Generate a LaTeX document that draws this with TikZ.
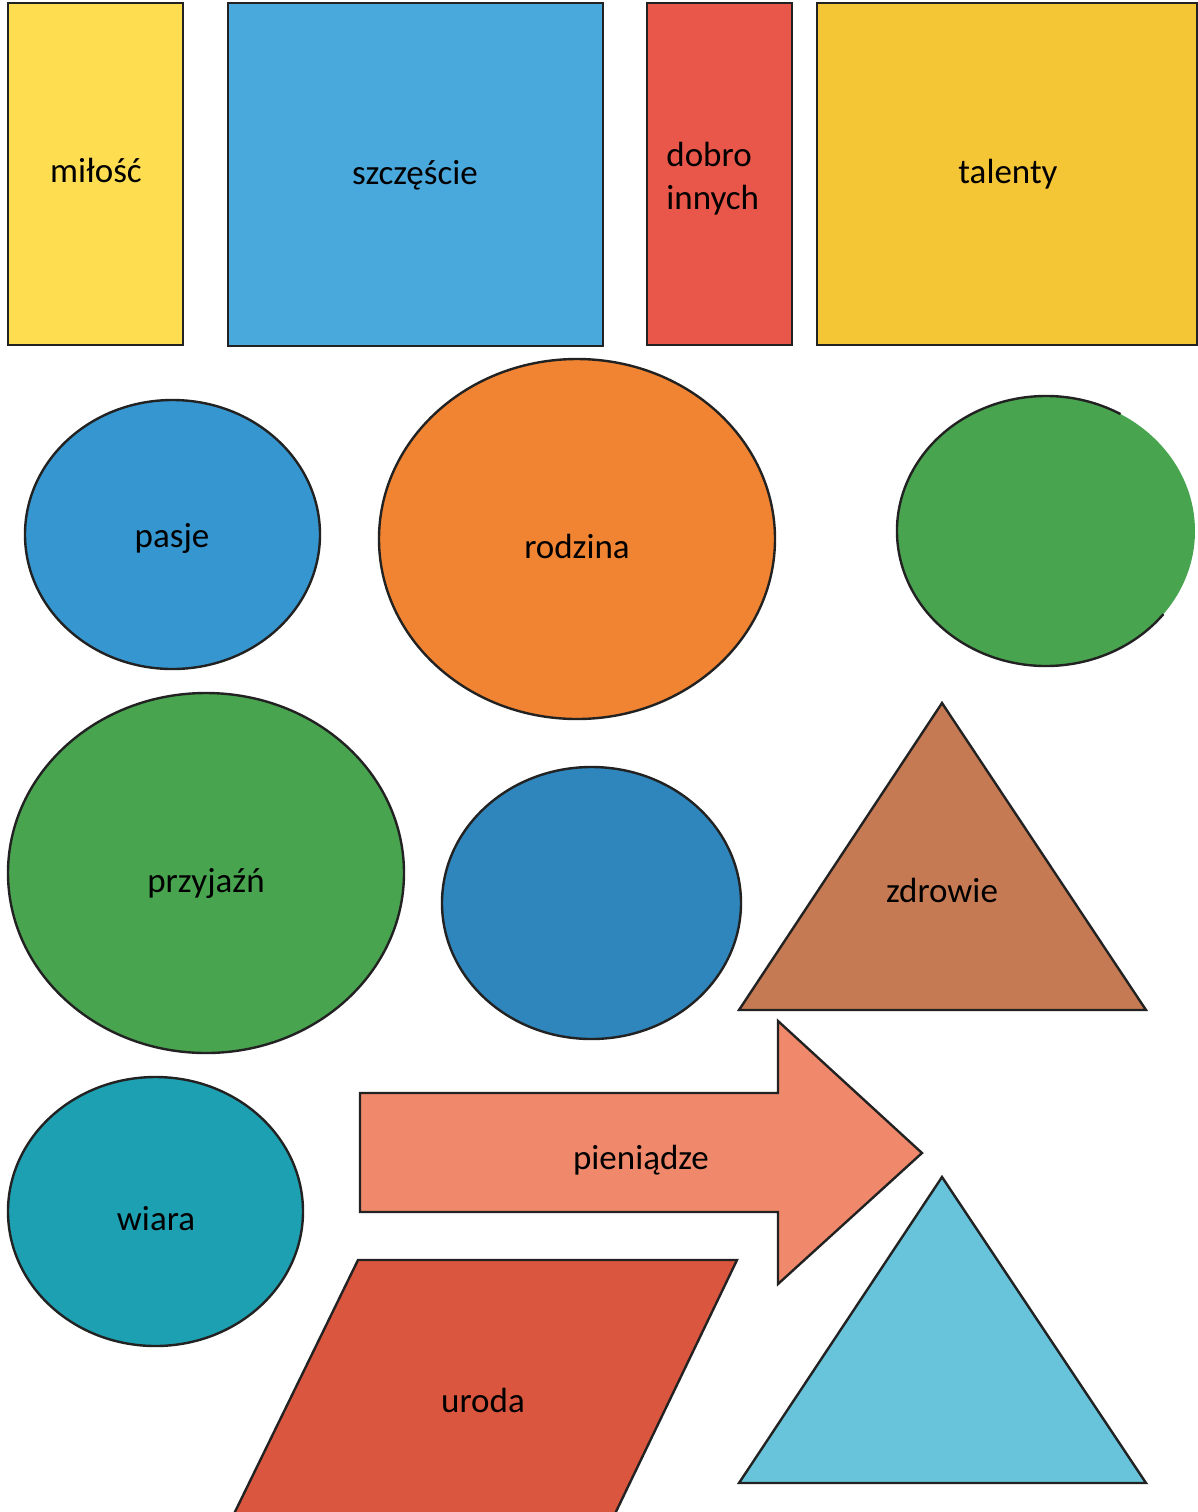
\documentclass[tikz,border=0pt]{standalone}
\usepackage{fontspec}
\setmainfont{Carlito}
\definecolor{zolty}{HTML}{FEDD50}
\definecolor{blekit}{HTML}{49A8DC}
\definecolor{czerwony}{HTML}{E8574A}
\definecolor{zloty}{HTML}{F4C535}
\definecolor{niebieski}{HTML}{3696D0}
\definecolor{pomaranczowy}{HTML}{F08432}
\definecolor{zielony}{HTML}{49A44F}
\definecolor{granat}{HTML}{2E86BC}
\definecolor{braz}{HTML}{C67A53}
\definecolor{morski}{HTML}{1EA0B3}
\definecolor{losos}{HTML}{F0896B}
\definecolor{ceglasty}{HTML}{DA563E}
\definecolor{jasny}{HTML}{67C4DA}
\definecolor{obrys}{HTML}{222222}
\begin{document}
\begin{tikzpicture}[x=0.5pt,y=-0.5pt]
	\tikzstyle{every node}=[font=\fontsize{17.5}{22}\selectfont,inner sep=0pt,anchor=base]
	\tikzstyle{blok}=[draw=obrys,line width=1.2pt,line join=miter]
	\useasboundingbox (0,0) rectangle (1198,1512);
	\path[blok,fill=zolty] (8,3) rectangle (183,345);
	\path[blok,fill=blekit] (228,3) rectangle (603,346);
	\path[blok,fill=czerwony] (647,3) rectangle (792,345);
	\path[blok,fill=zloty] (817,3) rectangle (1197,345);
	\node (milosc) at (96,182) {miłość};
	\node (szczescie) at (415,184) {szczęście};
	\node[anchor=base west] (dobro) at (666,166) {dobro};
	\node[anchor=base west] (innych) at (666,209) {innych};
	\node (talenty) at (1008,183) {talenty};
	\path[blok,fill=niebieski] (172.5,534.5) ellipse [x radius=147.5,y radius=134.5];
	\path[blok,fill=pomaranczowy] (577,539) ellipse [x radius=198,y radius=180];
	\fill[zielony] (1046,531) ellipse [x radius=149,y radius=135];
	\draw[blok] (1046,531) ++(-60:149 and 135) arc [start angle=-60,end angle=-322,x radius=149,y radius=135];
	\node (pasje) at (172,547) {pasje};
	\node (rodzina) at (577,558) {rodzina};
	\path[blok,fill=zielony] (206,873) ellipse [x radius=198,y radius=180];
	\path[blok,fill=granat] (591.5,903) ellipse [x radius=149.5,y radius=136];
	\path[blok,fill=braz] (942,703) -- (1146,1010) -- (739,1010) -- cycle;
	\node (przyjazn) at (206,892) {przyjaźń};
	\node (zdrowie) at (942,902) {zdrowie};
	\path[blok,fill=morski] (155.5,1211.5) ellipse [x radius=147.5,y radius=134.5];
	\path[blok,fill=losos] (360,1093) -- (778,1093) -- (778,1021) -- (922,1153) -- (778,1284) -- (778,1212) -- (360,1212) -- cycle;
	\path[blok,fill=ceglasty] (358,1260) -- (737,1260) -- (612,1520) -- (231,1520) -- cycle;
	\path[blok,fill=jasny] (942,1177) -- (1146,1483) -- (739,1483) -- cycle;
	\node (wiara) at (156,1230) {wiara};
	\node (pieniadze) at (641,1169) {pieniądze};
	\node (uroda) at (483,1412) {uroda};
\end{tikzpicture}
\end{document}
